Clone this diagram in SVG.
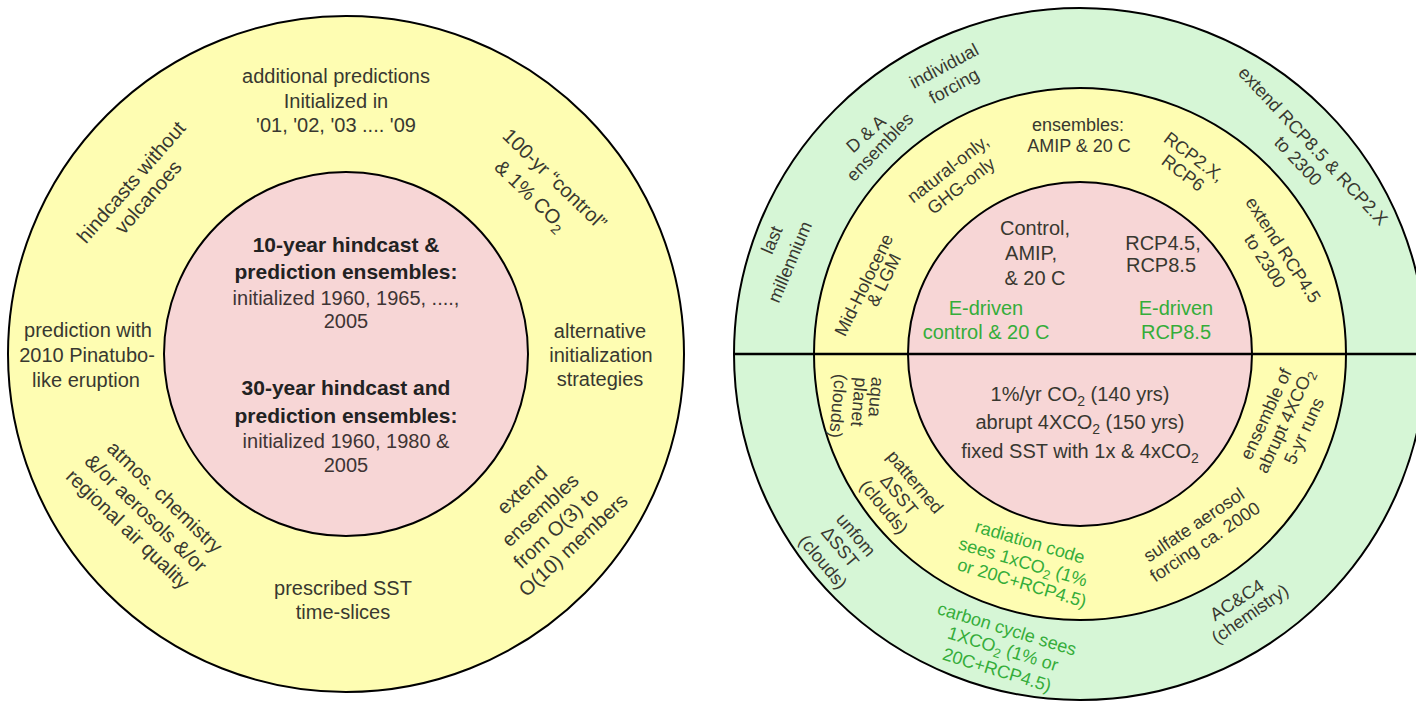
<svg xmlns="http://www.w3.org/2000/svg" width="1416" height="701" viewBox="0 0 1416 701">
<style>
.ring{stroke:#000;stroke-width:2}
.y{fill:#FEFDB2}
.p{fill:#F7D6D6}
.g{fill:#D6F6D6}
text{font-family:"Liberation Sans",Arial,sans-serif;fill:#383830;text-anchor:middle}
.t20{font-size:20px}
.t18{font-size:18px}
.b{font-size:21px;font-weight:bold;fill:#222}
.grn{fill:#35AD3A}
.in{fill:#3E3434}
</style>
<rect width="1416" height="701" fill="#fff"/>

<g id="left-outer"><circle class="ring y" cx="346" cy="354" r="338"/></g>
<g id="left-inner"><circle class="ring p" cx="346" cy="354" r="182"/></g>

<g id="right-outer"><circle class="ring g" cx="1080" cy="354" r="346"/></g>
<g id="right-middle"><circle class="ring y" cx="1080" cy="354" r="266"/></g>
<g id="right-inner"><circle class="ring p" cx="1080" cy="354" r="172"/></g>
<g id="divider"><line x1="733" y1="354" x2="1416" y2="354" stroke="#000" stroke-width="2.5"/></g>

<!-- Left diagram labels -->
<g id="l-additional" class="t20">
<text x="336" y="83">additional predictions</text>
<text x="336" y="108">Initialized in</text>
<text x="336" y="132">'01, '02, '03  .... '09</text>
</g>
<g id="l-center">
<text class="b" x="346" y="252">10-year hindcast &amp;</text>
<text class="b" x="346" y="279">prediction ensembles:</text>
<text class="t20 in" x="346" y="305">initialized 1960, 1965, ....,</text>
<text class="t20 in" x="346" y="328">2005</text>
<text class="b" x="346" y="395">30-year hindcast and</text>
<text class="b" x="346" y="423">prediction ensembles:</text>
<text class="t20 in" x="346" y="448">initialized 1960, 1980 &amp;</text>
<text class="t20 in" x="346" y="472">2005</text>
</g>
<g id="l-pinatubo" class="t20">
<text x="88" y="337">prediction with</text>
<text x="87" y="362">2010 Pinatubo-</text>
<text x="86" y="387">like eruption</text>
</g>
<g id="l-alternative" class="t20">
<text x="600" y="338">alternative</text>
<text x="601" y="362">initialization</text>
<text x="600" y="386">strategies</text>
</g>
<g id="l-sst" class="t20">
<text x="343" y="595">prescribed SST</text>
<text x="343" y="619">time-slices</text>
</g>
<g id="l-hindcasts" class="t20">
<text transform="translate(131,182) rotate(-49)" y="7">hindcasts without</text>
<text transform="translate(148,197) rotate(-49)" y="7">volcanoes</text>
</g>
<g id="l-control" class="t20">
<text transform="translate(555,179) rotate(44)" y="7">100-yr “control”</text>
<text transform="translate(531,195) rotate(44)" y="7">&amp; 1% CO<tspan font-size="14" dy="5">2</tspan></text>
</g>
<g id="l-atmos" class="t20">
<text transform="translate(165,497) rotate(44)" y="7">atmos. chemistry</text>
<text transform="translate(146,513) rotate(44)" y="7">&amp;/or aerosols &amp;/or</text>
<text transform="translate(128,529) rotate(44)" y="7">regional air quality</text>
</g>
<g id="l-extend" class="t20">
<text transform="translate(522,490) rotate(-43)" y="7">extend</text>
<text transform="translate(540,510) rotate(-43)" y="7">ensembles</text>
<text transform="translate(556,528) rotate(-43)" y="7">from O(3) to</text>
<text transform="translate(573,545) rotate(-43)" y="7">O(10) members</text>
</g>

<!-- Right diagram labels -->
<g id="r-individual" class="t18">
<text transform="translate(944,66) rotate(-28)" y="6">individual</text>
<text transform="translate(954,86) rotate(-29)" y="6">forcing</text>
</g>
<g id="r-da" class="t18">
<text transform="translate(866,134) rotate(-42)" y="6">D &amp; A</text>
<text transform="translate(880,147) rotate(-46)" y="6">ensembles</text>
</g>
<g id="r-ensembles" class="t18">
<text x="1078" y="131">ensembles:</text>
<text x="1079" y="152">AMIP &amp; 20 C</text>
</g>
<g id="r-natural" class="t18">
<text transform="translate(948,169) rotate(-38)" y="6">natural-only,</text>
<text transform="translate(961,186) rotate(-38)" y="6">GHG-only</text>
</g>
<g id="r-rcp2x" class="t18">
<text transform="translate(1194,157) rotate(37)" y="6">RCP2.X,</text>
<text transform="translate(1183,173) rotate(37)" y="6">RCP6</text>
</g>
<g id="r-extend85" class="t18">
<text transform="translate(1313,146) rotate(47)" y="6">extend RCP8.5 &amp; RCP2.X</text>
<text transform="translate(1298,161) rotate(47)" y="6">to 2300</text>
</g>
<g id="r-extend45" class="t18">
<text transform="translate(1283,250) rotate(57)" y="6">extend RCP4.5</text>
<text transform="translate(1265,261) rotate(57)" y="6">to 2300</text>
</g>
<g id="r-millennium" class="t18">
<text transform="translate(772,240) rotate(-67)" y="6">last</text>
<text transform="translate(790,262) rotate(-67)" y="6">millennium</text>
</g>
<g id="r-holocene" class="t18">
<text transform="translate(864,285) rotate(-64)" y="6">Mid-Holocene</text>
<text transform="translate(884,280) rotate(-64)" y="6">&amp; LGM</text>
</g>
<g id="r-control" class="t20 in">
<text x="1035" y="235">Control,</text>
<text x="1031" y="260">AMIP,</text>
<text x="1035" y="285">&amp; 20 C</text>
</g>
<g id="r-rcp45" class="t20 in">
<text x="1163" y="250">RCP4.5,</text>
<text x="1161" y="272">RCP8.5</text>
</g>
<g id="r-edriven-control" class="t20">
<text class="grn" x="986" y="315">E-driven</text>
<text class="grn" x="986" y="339">control &amp; 20 C</text>
</g>
<g id="r-edriven-rcp" class="t20">
<text class="grn" x="1176" y="315">E-driven</text>
<text class="grn" x="1176" y="339">RCP8.5</text>
</g>
<g id="r-co2" class="t20 in">
<text x="1080" y="401">1%/yr CO<tspan font-size="14" dy="5">2</tspan><tspan dy="-5"> (140 yrs)</tspan></text>
<text x="1080" y="429">abrupt 4XCO<tspan font-size="14" dy="5">2</tspan><tspan dy="-5"> (150 yrs)</tspan></text>
<text x="1080" y="458">fixed SST with 1x &amp; 4xCO<tspan font-size="14" dy="5">2</tspan></text>
</g>
<g id="r-aqua" class="t18">
<text transform="translate(876,397) rotate(95)" y="6">aqua</text>
<text transform="translate(859,402) rotate(95)" y="6">planet</text>
<text transform="translate(838,406) rotate(95)" y="6">(clouds)</text>
</g>
<g id="r-patterned" class="t18">
<text transform="translate(915,482) rotate(50)" y="6">patterned</text>
<text transform="translate(899,495) rotate(50)" y="6">ΔSST</text>
<text transform="translate(884,507) rotate(50)" y="6">(clouds)</text>
</g>
<g id="r-unfom" class="t18">
<text transform="translate(856,535) rotate(50)" y="6">unfom</text>
<text transform="translate(840,547) rotate(50)" y="6">ΔSST</text>
<text transform="translate(823,562) rotate(50)" y="6">(clouds)</text>
</g>
<g id="r-radiation" class="t18">
<text class="grn" transform="translate(1030,542) rotate(16.5)" y="6">radiation code</text>
<text class="grn" transform="translate(1023,562) rotate(16.5)" y="6">sees 1xCO<tspan font-size="13" dy="4">2</tspan><tspan dy="-4"> (1%</tspan></text>
<text class="grn" transform="translate(1022,583) rotate(16.5)" y="6">or 20C+RCP4.5)</text>
</g>
<g id="r-carbon" class="t18">
<text class="grn" transform="translate(1007,629) rotate(17)" y="6">carbon cycle sees</text>
<text class="grn" transform="translate(1003,649) rotate(17)" y="6">1XCO<tspan font-size="13" dy="4">2</tspan><tspan dy="-4"> (1% or</tspan></text>
<text class="grn" transform="translate(997,670) rotate(17)" y="6">20C+RCP4.5)</text>
</g>
<g id="r-sulfate" class="t18">
<text transform="translate(1194,525) rotate(-34)" y="6">sulfate aerosol</text>
<text transform="translate(1205,542) rotate(-34)" y="6">forcing ca. 2000</text>
</g>
<g id="r-abrupt" class="t18">
<text transform="translate(1266,414) rotate(-65)" y="6">ensemble of</text>
<text transform="translate(1285,421) rotate(-65)" y="6">abrupt 4XCO<tspan font-size="13" dy="4">2</tspan></text>
<text transform="translate(1304,431) rotate(-65)" y="6">5-yr runs</text>
</g>
<g id="r-chem" class="t18">
<text transform="translate(1237,600) rotate(-33)" y="6">AC&amp;C4</text>
<text transform="translate(1250,614) rotate(-35)" y="6">(chemistry)</text>
</g>
</svg>
